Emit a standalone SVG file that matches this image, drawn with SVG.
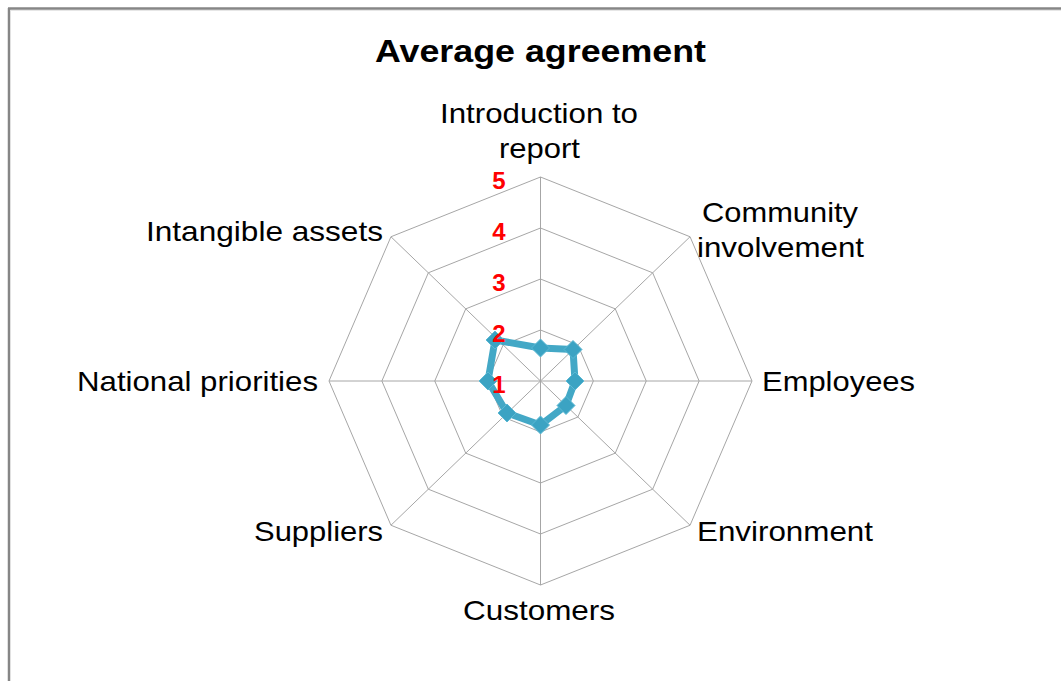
<svg xmlns="http://www.w3.org/2000/svg" width="1061" height="681" viewBox="0 0 1061 681">
<style>
.grid{fill:none;stroke:#A6A6A6;stroke-width:1}
.lbl{font-family:"Liberation Sans",Arial,sans-serif;font-size:28px;fill:#000}
.num{font-family:"Liberation Sans",Arial,sans-serif;font-size:24px;font-weight:bold;fill:#FF0000;text-anchor:middle}
.title{font-family:"Liberation Sans",Arial,sans-serif;font-size:31px;font-weight:bold;fill:#000}
.series{fill:none;stroke:#43A8C6;stroke-width:7;stroke-linejoin:round}
.mk{fill:#3BA3C3;stroke:#5BB8D3;stroke-width:1}
</style>
<defs>
<path id="dia" d="M0,-9 L9,0 L0,9 L-9,0 Z"/>
</defs>
<rect x="0" y="0" width="1061" height="681" fill="#FFFFFF"/>
<g id="frame">
<line x1="8" y1="8.5" x2="1061" y2="8.5" stroke="#868686" stroke-width="2.5"/>
<line x1="9" y1="8" x2="9" y2="681" stroke="#868686" stroke-width="2.5"/>
<line x1="11" y1="10.5" x2="1061" y2="10.5" stroke="#E6E6E6" stroke-width="1"/>
</g>
<g id="title"><text class="title" x="375" y="62" textLength="331" lengthAdjust="spacingAndGlyphs">Average agreement</text></g>
<g id="grid">
<polygon class="grid" points="540.5,177 690.05,236.75 752,381 690.05,525.25 540.5,585 390.95,525.25 329,381 390.95,236.75"/>
<polygon class="grid" points="540.5,228 652.66,272.81 699.13,381 652.66,489.19 540.5,534 428.34,489.19 381.88,381 428.34,272.81"/>
<polygon class="grid" points="540.5,279 615.28,308.88 646.25,381 615.28,453.13 540.5,483 465.73,453.13 434.75,381 465.73,308.88"/>
<polygon class="grid" points="540.5,330 577.89,344.94 593.38,381 577.89,417.06 540.5,432 503.11,417.06 487.63,381 503.11,344.94"/>
<line class="grid" x1="540.5" y1="381" x2="540.5" y2="177"/>
<line class="grid" x1="540.5" y1="381" x2="690.05" y2="236.75"/>
<line class="grid" x1="540.5" y1="381" x2="752" y2="381"/>
<line class="grid" x1="540.5" y1="381" x2="690.05" y2="525.25"/>
<line class="grid" x1="540.5" y1="381" x2="540.5" y2="585"/>
<line class="grid" x1="540.5" y1="381" x2="390.95" y2="525.25"/>
<line class="grid" x1="540.5" y1="381" x2="329" y2="381"/>
<line class="grid" x1="540.5" y1="381" x2="390.95" y2="236.75"/>
</g>
<g id="series">
<polygon class="series" points="540.5,348 573,349.5 575,381 566,405.5 540.5,425 507,413 488,381 495,340"/>
<use href="#dia" class="mk" x="540.5" y="348"/>
<use href="#dia" class="mk" x="573" y="349.5"/>
<use href="#dia" class="mk" x="575" y="381"/>
<use href="#dia" class="mk" x="566" y="405.5"/>
<use href="#dia" class="mk" x="540.5" y="425"/>
<use href="#dia" class="mk" x="507" y="413"/>
<use href="#dia" class="mk" x="488" y="381"/>
<use href="#dia" class="mk" x="495" y="340"/>
</g>
<g id="axis-values">
<text class="num" x="499" y="189">5</text>
<text class="num" x="499" y="240">4</text>
<text class="num" x="499" y="291">3</text>
<text class="num" x="499" y="342">2</text>
<text class="num" x="499" y="393">1</text>
</g>
<g id="labels">
<g id="lbl-intro"><text class="lbl" x="440" y="123" textLength="198" lengthAdjust="spacingAndGlyphs">Introduction to</text>
<text class="lbl" x="499" y="158" textLength="81" lengthAdjust="spacingAndGlyphs">report</text></g>
<g id="lbl-community"><text class="lbl" x="702" y="222" textLength="156" lengthAdjust="spacingAndGlyphs">Community</text>
<text class="lbl" x="697" y="257" textLength="167" lengthAdjust="spacingAndGlyphs">involvement</text></g>
<g id="lbl-employees"><text class="lbl" x="762" y="391" textLength="153" lengthAdjust="spacingAndGlyphs">Employees</text></g>
<g id="lbl-environment"><text class="lbl" x="697" y="541" textLength="176" lengthAdjust="spacingAndGlyphs">Environment</text></g>
<g id="lbl-customers"><text class="lbl" x="463" y="620" textLength="152" lengthAdjust="spacingAndGlyphs">Customers</text></g>
<g id="lbl-suppliers"><text class="lbl" x="254" y="541" textLength="129" lengthAdjust="spacingAndGlyphs">Suppliers</text></g>
<g id="lbl-national"><text class="lbl" x="77" y="391" textLength="241" lengthAdjust="spacingAndGlyphs">National priorities</text></g>
<g id="lbl-intangible"><text class="lbl" x="146" y="241" textLength="237" lengthAdjust="spacingAndGlyphs">Intangible assets</text></g>
</g>
</svg>
